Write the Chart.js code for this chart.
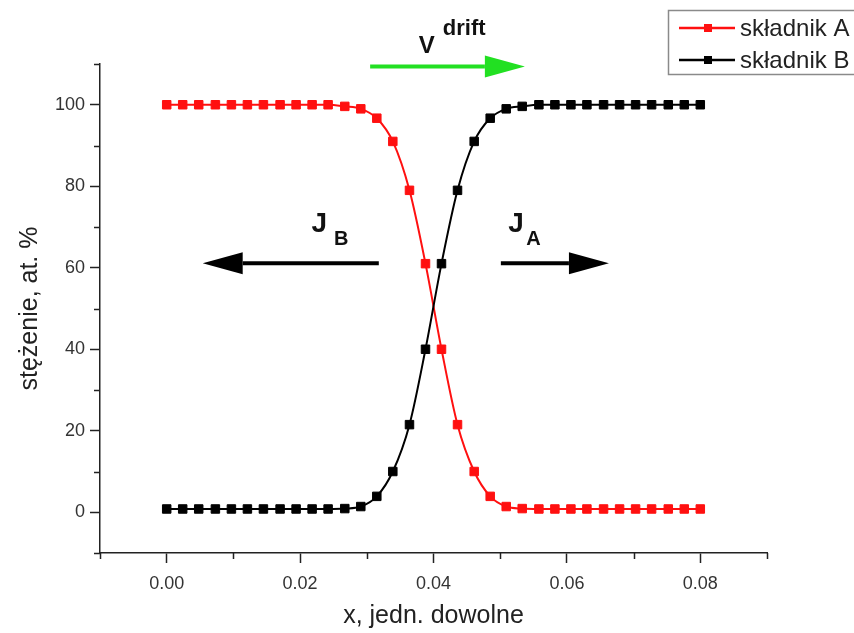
<!DOCTYPE html>
<html>
<head>
<meta charset="utf-8">
<script src="https://cdn.jsdelivr.net/npm/chart.js@4/dist/chart.umd.min.js"></script>
<style>
  body { margin: 0; background: #fff; }
</style>
</head>
<body>
<canvas id="profil" width="854" height="633"></canvas>
<script>
// położenia punktów (x, jedn. dowolne)
var xPos = [0, 0.0024, 0.0048, 0.0073, 0.0097, 0.0121, 0.0145, 0.017, 0.0194, 0.0218,
  0.0242, 0.0267, 0.0291, 0.0315, 0.0339, 0.0364, 0.0388, 0.0412, 0.0436, 0.0461,
  0.0485, 0.0509, 0.0533, 0.0558, 0.0582, 0.0606, 0.063, 0.0655, 0.0679, 0.0703,
  0.0727, 0.0752, 0.0776, 0.08];

// stężenie, at. %
var skladnikA = [100, 100, 100, 100, 100, 100, 100, 100, 100, 100,
  100, 99.6, 99, 96.7, 91, 79, 61, 40, 21.5, 10,
  3.9, 1.4, 0.9, 0.8, 0.8, 0.8, 0.8, 0.8, 0.8, 0.8,
  0.8, 0.8, 0.8, 0.8];
var skladnikB = [0.8, 0.8, 0.8, 0.8, 0.8, 0.8, 0.8, 0.8, 0.8, 0.8,
  0.8, 0.9, 1.4, 3.9, 10, 21.5, 40, 61, 79, 91,
  96.7, 99, 99.6, 100, 100, 100, 100, 100, 100, 100,
  100, 100, 100, 100];

var xTicks = [0, 0.02, 0.04, 0.06, 0.08];
var xMinor = [-0.01, 0.01, 0.03, 0.05, 0.07, 0.09];
var yTicks = [0, 20, 40, 60, 80, 100];
var yMinor = [-10, 10, 30, 50, 70, 90, 110];

var FONT = "'Liberation Sans', Arial, Helvetica, sans-serif";

// strzałki i opisy w jednostkach osi
var arrows = [
  { from: 0.0305, to: 0.0537, y: 109.4, color: '#22e022' },
  { from: 0.0318, to: 0.0054, y: 61.1, color: '#000' },
  { from: 0.0501, to: 0.0663, y: 61.1, color: '#000' }
];
var labels = [
  { text: 'V', x: 0.0378, y: 112.8, size: 24 },
  { text: 'drift', x: 0.0414, y: 117.2, size: 22 },
  { text: 'J', x: 0.0217, y: 68.8, size: 28 },
  { text: 'B', x: 0.0251, y: 65.6, size: 20 },
  { text: 'J', x: 0.0512, y: 68.8, size: 28 },
  { text: 'A', x: 0.0539, y: 65.6, size: 20 }
];

function points(ys) {
  return xPos.map(function (x, i) { return { x: x, y: ys[i] }; });
}

function drawArrow(ctx, x1, y, x2, color) {
  var dir = x2 > x1 ? 1 : -1;
  var head = 40, half = 11;
  ctx.save();
  ctx.strokeStyle = color;
  ctx.fillStyle = color;
  ctx.lineWidth = 4;
  ctx.beginPath();
  ctx.moveTo(x1, y);
  ctx.lineTo(x2 - dir * head, y);
  ctx.stroke();
  ctx.beginPath();
  ctx.moveTo(x2, y);
  ctx.lineTo(x2 - dir * head, y - half);
  ctx.lineTo(x2 - dir * head, y + half);
  ctx.closePath();
  ctx.fill();
  ctx.restore();
}

var extras = {
  id: 'extras',
  afterDraw: function (chart) {
    var ctx = chart.ctx;
    var sx = chart.scales.x, sy = chart.scales.y;

    // krótkie podziałki pośrednie
    ctx.save();
    ctx.strokeStyle = '#222';
    ctx.lineWidth = 1.5;
    ctx.beginPath();
    xMinor.forEach(function (v) {
      var px = Math.round(sx.getPixelForValue(v)) + 0.5;
      ctx.moveTo(px, sx.top);
      ctx.lineTo(px, sx.top + 6);
    });
    yMinor.forEach(function (v) {
      var py = Math.round(sy.getPixelForValue(v)) + 0.5;
      ctx.moveTo(sy.right, py);
      ctx.lineTo(sy.right - 6, py);
    });
    ctx.stroke();
    ctx.restore();

    arrows.forEach(function (a) {
      drawArrow(ctx, sx.getPixelForValue(a.from), sy.getPixelForValue(a.y),
        sx.getPixelForValue(a.to), a.color);
    });

    ctx.save();
    ctx.fillStyle = '#111';
    ctx.textBaseline = 'alphabetic';
    labels.forEach(function (l) {
      ctx.font = 'bold ' + l.size + 'px ' + FONT;
      ctx.fillText(l.text, sx.getPixelForValue(l.x), sy.getPixelForValue(l.y));
    });
    ctx.restore();

    // legenda
    ctx.save();
    ctx.strokeStyle = '#8a8a8a';
    ctx.lineWidth = 1.5;
    ctx.strokeRect(668.5, 10.5, 200, 64);
    chart.data.datasets.forEach(function (ds, i) {
      var ly = 28 + i * 32;
      ctx.strokeStyle = ds.borderColor;
      ctx.fillStyle = ds.borderColor;
      ctx.lineWidth = 2.5;
      ctx.beginPath();
      ctx.moveTo(679, ly);
      ctx.lineTo(735, ly);
      ctx.stroke();
      ctx.fillRect(704, ly - 4, 8, 8);
      ctx.fillStyle = '#222';
      ctx.font = '24px ' + FONT;
      ctx.textBaseline = 'middle';
      ctx.fillText(ds.label, 740, ly + 1);
    });
    ctx.restore();
  }
};

new Chart(document.getElementById('profil'), {
  type: 'line',
  data: {
    datasets: [
      {
        label: 'składnik A',
        data: points(skladnikA),
        borderColor: '#ff1010',
        backgroundColor: '#ff1010',
        borderWidth: 2,
        pointStyle: 'rect',
        pointRadius: 6,
        pointBorderWidth: 1,
        cubicInterpolationMode: 'monotone',
        order: 1
      },
      {
        label: 'składnik B',
        data: points(skladnikB),
        borderColor: '#000',
        backgroundColor: '#000',
        borderWidth: 2,
        pointStyle: 'rect',
        pointRadius: 6,
        pointBorderWidth: 1,
        cubicInterpolationMode: 'monotone',
        order: 0
      }
    ]
  },
  options: {
    responsive: false,
    animation: false,
    layout: { padding: { top: 64, right: 87, left: 0, bottom: 0 } },
    plugins: {
      legend: { display: false },
      tooltip: { enabled: false }
    },
    scales: {
      x: {
        type: 'linear',
        min: -0.01,
        max: 0.09,
        afterFit: function (s) { s.height = 80; },
        afterBuildTicks: function (s) {
          s.ticks = xTicks.map(function (v) { return { value: v }; });
        },
        border: { color: '#222', width: 1.5 },
        grid: { drawOnChartArea: false, tickLength: 10, color: '#222', tickWidth: 1.5 },
        ticks: {
          autoSkip: false,
          maxRotation: 0,
          padding: 10,
          color: '#333',
          font: { family: FONT, size: 18 },
          callback: function (v) { return v.toFixed(2); }
        },
        title: {
          display: true,
          text: 'x, jedn. dowolne',
          color: '#222',
          font: { family: FONT, size: 25 },
          padding: { top: 0, bottom: 2 }
        }
      },
      y: {
        min: -10,
        max: 110,
        afterFit: function (s) { s.width = 100; },
        afterBuildTicks: function (s) {
          s.ticks = yTicks.map(function (v) { return { value: v }; });
        },
        border: { color: '#222', width: 1.5 },
        grid: { drawOnChartArea: false, tickLength: 10, color: '#222', tickWidth: 1.5 },
        ticks: {
          autoSkip: false,
          padding: 5,
          color: '#333',
          font: { family: FONT, size: 18 }
        },
        title: {
          display: true,
          text: 'stężenie, at. %',
          color: '#222',
          font: { family: FONT, size: 25 },
          padding: { top: 15, bottom: 0 }
        }
      }
    }
  },
  plugins: [extras]
});
</script>
</body>
</html>
